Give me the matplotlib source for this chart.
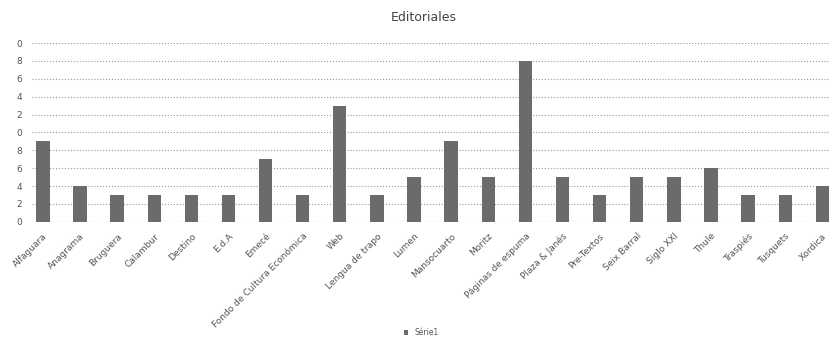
import matplotlib.pyplot as plt
import numpy as np

# datos
editoriales = ["Alfaguara", "Anagrama", "Bruguera", "Calambur", "Destino", "E.d.A",
               "Emecé", "Fondo de Cultura Económica", "Web", "Lengua de trapo", "Lumen",
               "Mansocuarto", "Moritz", "Páginas de espuma", "Plaza & Janés", "Pre-Textos",
               "Seix Barral", "Siglo XXI", "Thule", "Traspiés", "Tusquets", "Xordica"]
valores = [9, 4, 3, 3, 3, 3, 7, 3, 13, 3, 5, 9, 5, 18, 5, 3, 5, 5, 6, 3, 3, 4]
y_ticks = [0, 2, 4, 6, 8, 10, 12, 14, 16, 18, 20]
y_labels = ["0", "2", "4", "6", "8", "0", "2", "4", "6", "8", "0"]

fig = plt.figure(figsize=(8.34, 3.45), dpi=100)
ax = fig.add_axes([0.038, 0.357, 0.957, 0.518])

x = np.arange(len(editoriales))
ax.bar(x, valores, width=0.36, color="#6b6b6b", zorder=3, label="Série1")

ax.set_ylim(0, 20)
ax.set_xlim(-0.3, len(editoriales) - 0.8)
ax.set_yticks(y_ticks)
ax.set_yticklabels(y_labels, fontsize=6.5, color="#555555")
ax.set_xticks(x)
ax.set_xticklabels(editoriales, rotation=45, ha="right", rotation_mode="anchor",
                   fontsize=6.5, color="#555555")
ax.tick_params(length=0, pad=7)
ax.yaxis.grid(True, linestyle=":", color="#999999", linewidth=0.8, zorder=0)
for s in ax.spines.values():
    s.set_visible(False)
ax.axhline(0, color="#aaaaaa", linestyle=":", linewidth=0.8)

fig.text(0.508, 0.95, "Editoriales", ha="center", va="center", fontsize=9, color="#444444")
fig.legend(loc="center", bbox_to_anchor=(0.505, 0.035), frameon=False, fontsize=5.5,
           handlelength=0.6, handleheight=0.6, labelcolor="#555555")

plt.savefig("out.png", dpi=100)
